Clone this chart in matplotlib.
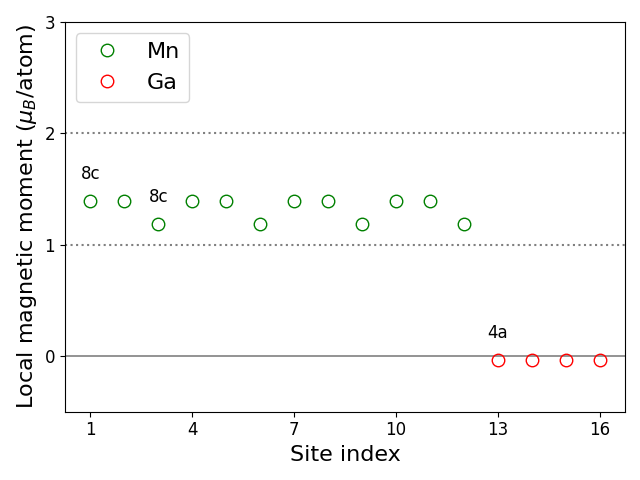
import numpy as np
import matplotlib
matplotlib.use('Agg')
import matplotlib.pyplot as plt

# site indices and local moments (mu_B/atom)
mn_sites = [1, 2, 3, 4, 5, 6, 7, 8, 9, 10, 11, 12]
mn_moments = [1.39, 1.39, 1.19, 1.39, 1.39, 1.19, 1.39, 1.39, 1.19, 1.39, 1.39, 1.19]
ga_sites = [13, 14, 15, 16]
ga_moments = [-0.035, -0.035, -0.035, -0.035]

# Wyckoff labels: (site index, text)
wyckoff = [(1, '8c'), (3, '8c'), (13, '4a')]

fig, ax = plt.subplots(figsize=(6.4, 4.8))

ax.axhline(0, color='gray', lw=1.2)
ax.axhline(1, color='gray', ls=':', lw=1.5)
ax.axhline(2, color='gray', ls=':', lw=1.5)

ax.plot(mn_sites, mn_moments, 'o', ms=9, mfc='none', mec='green', label='Mn')
ax.plot(ga_sites, ga_moments, 'o', ms=9, mfc='none', mec='red', label='Ga')

all_sites = mn_sites + ga_sites
all_moments = mn_moments + ga_moments
for site, txt in wyckoff:
    val = all_moments[all_sites.index(site)]
    ax.text(site, val + 0.16, txt, ha='center', va='bottom', fontsize=12)

ax.set_ylim(-0.5, 3)
ax.set_xticks([1, 4, 7, 10, 13, 16])
ax.set_yticks([0, 1, 2, 3])
ax.tick_params(labelsize=12)
ax.set_xlabel('Site index', fontsize=16)
ax.set_ylabel(r'Local magnetic moment ($\mu_B$/atom)', fontsize=16)
ax.legend(loc='upper left', fontsize=16)

plt.tight_layout()
plt.savefig('out.png', dpi=100)
plt.close()
